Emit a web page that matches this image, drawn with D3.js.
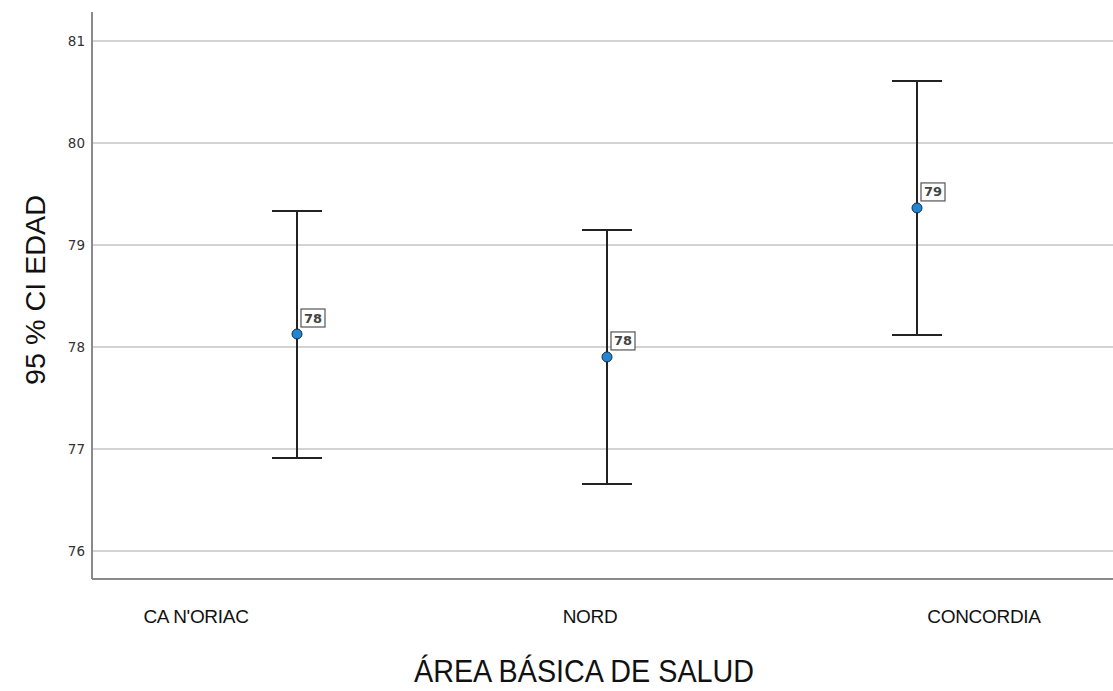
<!DOCTYPE html>
<html>
<head>
<meta charset="utf-8">
<script src="https://cdn.jsdelivr.net/npm/d3@7"></script>
<style>
  body { margin: 0; background: #fff; }
  svg { display: block; }
</style>
</head>
<body>
<svg id="chart" width="1113" height="691"></svg>
<script>
const categories = ["CA N'ORIAC", "NORD", "CONCORDIA"];
const means = [78.127, 77.902, 79.363];
const lower = [76.912, 76.657, 78.118];
const upper = [79.333, 79.147, 80.608];
const pointLabels = ["78", "78", "79"];
const yTicks = [76, 77, 78, 79, 80, 81];
const yTitle = "95 % CI EDAD";
const xTitle = "ÁREA BÁSICA DE SALUD";

(function () {
const svg = d3.select("#chart");
const mLeft = 92, mRight = 1113, mTop = 12, mBottom = 579;

const y = d3.scaleLinear().domain([75.725, 81.284]).range([mBottom, mTop]);
const x = d3.scalePoint().domain(categories).range([297, 917]);
const xl = d3.scalePoint().domain(categories).range([196, 984]);

// gridlines
svg.append("g").selectAll("line").data(yTicks).join("line")
  .attr("x1", mLeft).attr("x2", mRight)
  .attr("y1", d => y(d)).attr("y2", d => y(d))
  .attr("stroke", "#c4c4c4").attr("stroke-width", 1.6);

// y axis
const yAxis = d3.axisLeft(y).tickValues(yTicks).tickSize(0).tickPadding(7).tickFormat(d3.format("d"));
const gy = svg.append("g").attr("transform", `translate(${mLeft},0)`).call(yAxis);
gy.select(".domain").remove();
gy.selectAll("text").attr("font-family", "DejaVu Sans").attr("font-size", 13.5).attr("fill", "#333");

// axis lines
svg.append("line").attr("x1", mLeft).attr("x2", mLeft).attr("y1", mTop).attr("y2", mBottom)
  .attr("stroke", "#8a8a8a").attr("stroke-width", 2);
svg.append("line").attr("x1", mLeft).attr("x2", mRight).attr("y1", mBottom).attr("y2", mBottom)
  .attr("stroke", "#8a8a8a").attr("stroke-width", 2);

// x labels
svg.append("g").selectAll("text").data(categories).join("text")
  .attr("x", d => xl(d)).attr("y", 623)
  .attr("text-anchor", "middle")
  .attr("font-family", "Liberation Sans, Arial, sans-serif")
  .attr("font-size", 19).attr("letter-spacing", "-0.3px").attr("fill", "#111")
  .text(d => d);

// error bars
const data = categories.map((c, i) => ({c, m: means[i], lo: lower[i], hi: upper[i], lab: pointLabels[i]}));
const cap = 25;
const g = svg.append("g");
g.selectAll("line.v").data(data).join("line").attr("class", "v")
  .attr("x1", d => x(d.c)).attr("x2", d => x(d.c))
  .attr("y1", d => y(d.lo)).attr("y2", d => y(d.hi))
  .attr("stroke", "#222").attr("stroke-width", 2);
g.selectAll("line.hi").data(data).join("line").attr("class", "hi")
  .attr("x1", d => x(d.c) - cap).attr("x2", d => x(d.c) + cap)
  .attr("y1", d => y(d.hi)).attr("y2", d => y(d.hi))
  .attr("stroke", "#222").attr("stroke-width", 2);
g.selectAll("line.lo").data(data).join("line").attr("class", "lo")
  .attr("x1", d => x(d.c) - cap).attr("x2", d => x(d.c) + cap)
  .attr("y1", d => y(d.lo)).attr("y2", d => y(d.lo))
  .attr("stroke", "#222").attr("stroke-width", 2);

// point labels
const lg = g.selectAll("g.lab").data(data).join("g").attr("class", "lab")
  .attr("transform", d => `translate(${x(d.c) + 4},${y(d.m) - 7})`);
lg.append("rect").attr("x", 0).attr("y", -18).attr("width", 24).attr("height", 18)
  .attr("fill", "#fff").attr("stroke", "#555").attr("stroke-width", 1.2);
lg.append("text").attr("x", 12).attr("y", -4.5).attr("text-anchor", "middle")
  .attr("font-family", "DejaVu Sans").attr("font-size", 13).attr("font-weight", "bold")
  .attr("fill", "#444").text(d => d.lab);

// points
g.selectAll("circle").data(data).join("circle")
  .attr("cx", d => x(d.c)).attr("cy", d => y(d.m)).attr("r", 5)
  .attr("fill", "#1f86d6").attr("stroke", "#1a2a3a").attr("stroke-width", 1);

// titles
svg.append("text")
  .attr("transform", `translate(45,290) rotate(-90)`)
  .attr("text-anchor", "middle")
  .attr("font-family", "Liberation Sans, Arial, sans-serif")
  .attr("font-size", 27).attr("fill", "#111")
  .attr("textLength", 190).attr("lengthAdjust", "spacingAndGlyphs")
  .text(yTitle);
svg.append("text")
  .attr("x", 584).attr("y", 682)
  .attr("text-anchor", "middle")
  .attr("font-family", "Liberation Sans, Arial, sans-serif")
  .attr("font-size", 32).attr("fill", "#111")
  .attr("textLength", 340).attr("lengthAdjust", "spacingAndGlyphs")
  .text(xTitle);
})();
</script>
</body>
</html>
